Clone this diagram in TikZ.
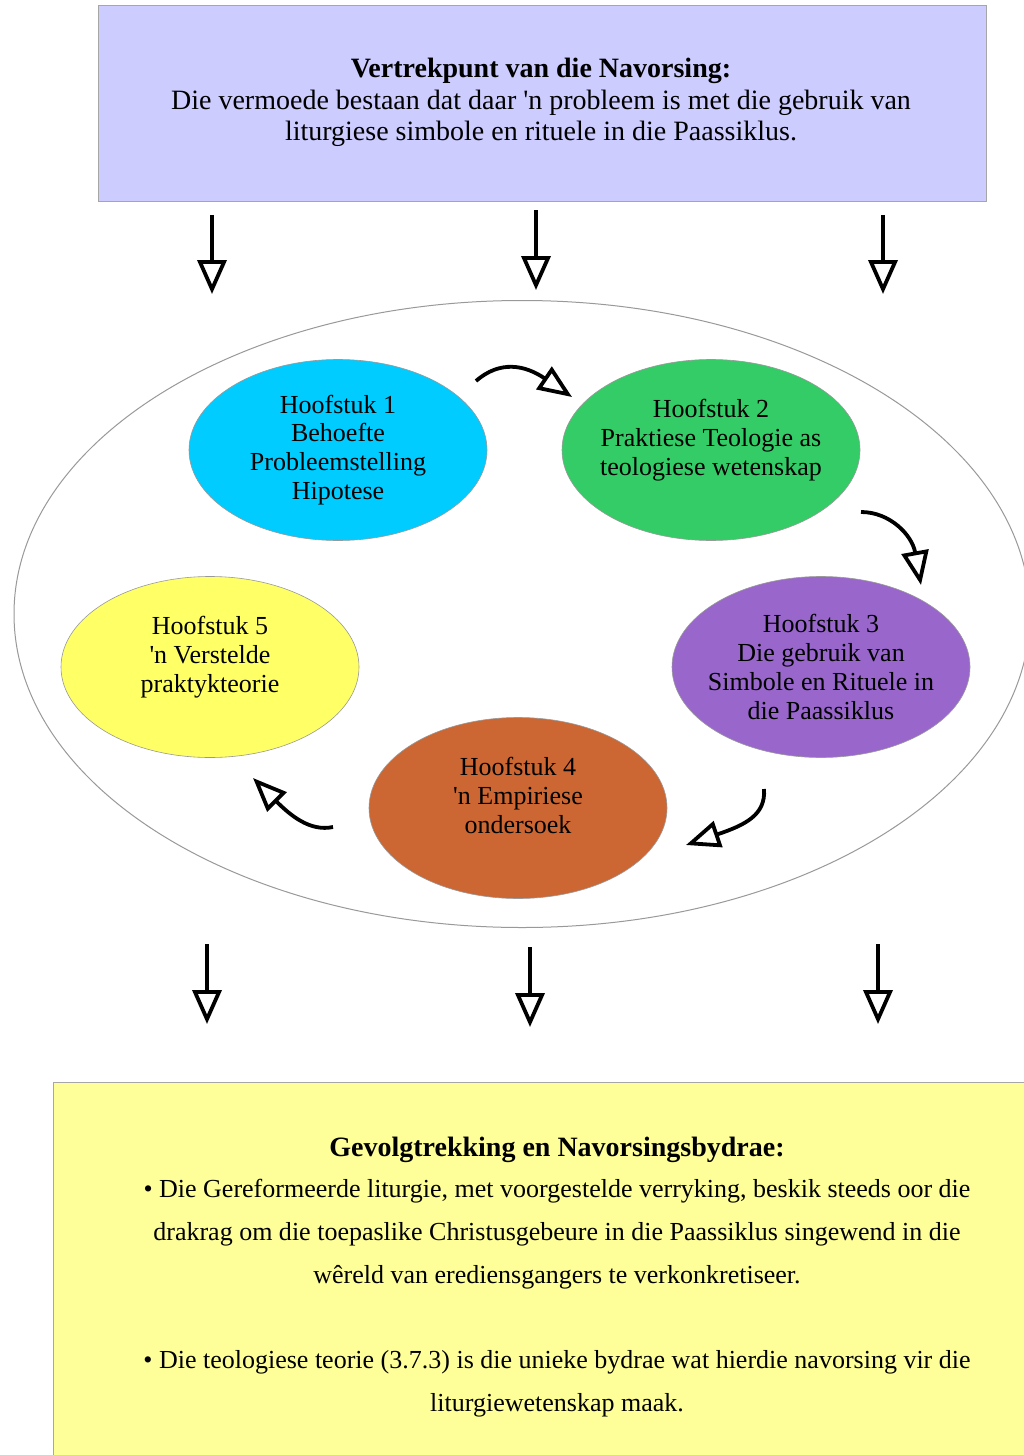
\documentclass[tikz,border=0pt]{standalone}
\usepackage{fontspec}
\setmainfont{Liberation Serif}[Ligatures=TeXOff]
\usetikzlibrary{arrows.meta,shapes.geometric}
\definecolor{lav}{HTML}{CCCCFF}
\definecolor{lyel}{HTML}{FFFF99}
\definecolor{cy}{HTML}{00CCFF}
\definecolor{gr}{HTML}{33CC66}
\definecolor{pu}{HTML}{9966CC}
\definecolor{br}{HTML}{CC6633}
\definecolor{ye}{HTML}{FFFF66}
\newcommand{\uptext}[1]{\raisebox{9pt}[\height][\depth]{\begin{tabular}{@{}c@{}}#1\end{tabular}}}
\begin{document}
\begin{tikzpicture}[x=1pt,y=-1pt,
  chap/.style={ellipse, draw=black!40, line width=0.6pt, minimum width=298pt, minimum height=181pt, align=center, font=\fontsize{26}{28.8}\selectfont, inner xsep=-40pt, inner ysep=-20pt},
  topline/.style={anchor=base, font=\fontsize{28}{31}\selectfont, inner sep=0pt},
  botline/.style={anchor=base, font=\fontsize{26}{30}\selectfont, inner sep=0pt},
  downarr/.style={line width=3.8pt, -{Triangle[open, length=34pt, width=29pt]}},
  curarr/.style={line width=3.8pt, -{Triangle[open, length=34pt, width=27pt]}}
]
\useasboundingbox (0,0) rectangle (1024,1455);
\fill[white] (0,0) rectangle (1024,1455);
% top box
\node[draw=black!35, fill=lav, line width=0.8pt, minimum width=888pt, minimum height=196pt, anchor=north west, inner sep=0pt] (top) at (98,5) {};
\node[topline, font=\fontsize{28}{31}\selectfont\bfseries] (tl1) at (541,78) {Vertrekpunt van die Navorsing:};
\node[topline] (tl2) at (541,109.5) {Die vermoede bestaan dat daar 'n probleem is met die gebruik van};
\node[topline] (tl3) at (541,140.5) {liturgiese simbole en rituele in die Paassiklus.};
% big ellipse
\node[ellipse, draw=black!40, line width=1pt, minimum width=1016pt, minimum height=627pt, inner sep=0pt] (big) at (522,614) {};
% chapters
\node[chap, fill=cy] (h1) at (338,450) {Hoofstuk 1\\Behoefte\\Probleemstelling\\Hipotese};
\node[chap, fill=gr] (h2) at (711,450) {\uptext{Hoofstuk 2\\Praktiese Teologie as\\teologiese wetenskap}};
\node[chap, fill=pu] (h3) at (821,667) {Hoofstuk 3\\Die gebruik van\\Simbole en Rituele in\\die Paassiklus};
\node[chap, fill=br] (h4) at (518,808) {\uptext{Hoofstuk 4\\'n Empiriese\\ondersoek}};
\node[chap, fill=ye] (h5) at (210,667) {\uptext{Hoofstuk 5\\'n Verstelde\\praktykteorie}};
% bottom box
\node[draw=black!35, fill=lyel, line width=0.8pt, minimum width=1000pt, minimum height=420pt, anchor=north west, inner sep=0pt] (bot) at (53,1082) {};
\node[botline, font=\fontsize{28}{30}\selectfont\bfseries] (bt0) at (557,1156) {Gevolgtrekking en Navorsingsbydrae:};
\node[botline] (bt1) at (557,1197) {• Die Gereformeerde liturgie, met voorgestelde verryking, beskik steeds oor die};
\node[botline] (bt2) at (557,1240) {drakrag om die toepaslike Christusgebeure in die Paassiklus singewend in die};
\node[botline] (bt3) at (557,1283) {wêreld van erediensgangers te verkonkretiseer.};
\node[botline] (bt4) at (557,1368) {• Die teologiese teorie (3.7.3) is die unieke bydrae wat hierdie navorsing vir die};
\node[botline] (bt5) at (557,1411) {liturgiewetenskap maak.};
% down arrows top
\coordinate (t1s) at (212,215); \coordinate (t1e) at (212,294);
\coordinate (t2s) at (536,210); \coordinate (t2e) at (536,290);
\coordinate (t3s) at (883,215); \coordinate (t3e) at (883,294);
\draw[downarr] (t1s) -- (t1e);
\draw[downarr] (t2s) -- (t2e);
\draw[downarr] (t3s) -- (t3e);
% down arrows bottom
\coordinate (b1s) at (207,944); \coordinate (b1e) at (207,1024);
\coordinate (b2s) at (530,947); \coordinate (b2e) at (530,1027);
\coordinate (b3s) at (878,944); \coordinate (b3e) at (878,1024);
\draw[downarr] (b1s) -- (b1e);
\draw[downarr] (b2s) -- (b2e);
\draw[downarr] (b3s) -- (b3e);
% curved arrows
\coordinate (c1s) at (476,381); \coordinate (c1e) at (572,397);
\draw[curarr] (c1s) .. controls (500,360) and (525,365) .. (c1e);
\coordinate (c2s) at (861,512); \coordinate (c2e) at (921,585);
\draw[curarr] (c2s) .. controls (890,512) and (912,535) .. (c2e);
\coordinate (c3s) at (764,789); \coordinate (c3e) at (686,845);
\draw[curarr] (c3s) .. controls (766,815) and (745,825) .. (c3e);
\coordinate (c4s) at (333,827); \coordinate (c4e) at (253,778);
\draw[curarr] (c4s) .. controls (310,832) and (290,815) .. (c4e);
\end{tikzpicture}
\end{document}
